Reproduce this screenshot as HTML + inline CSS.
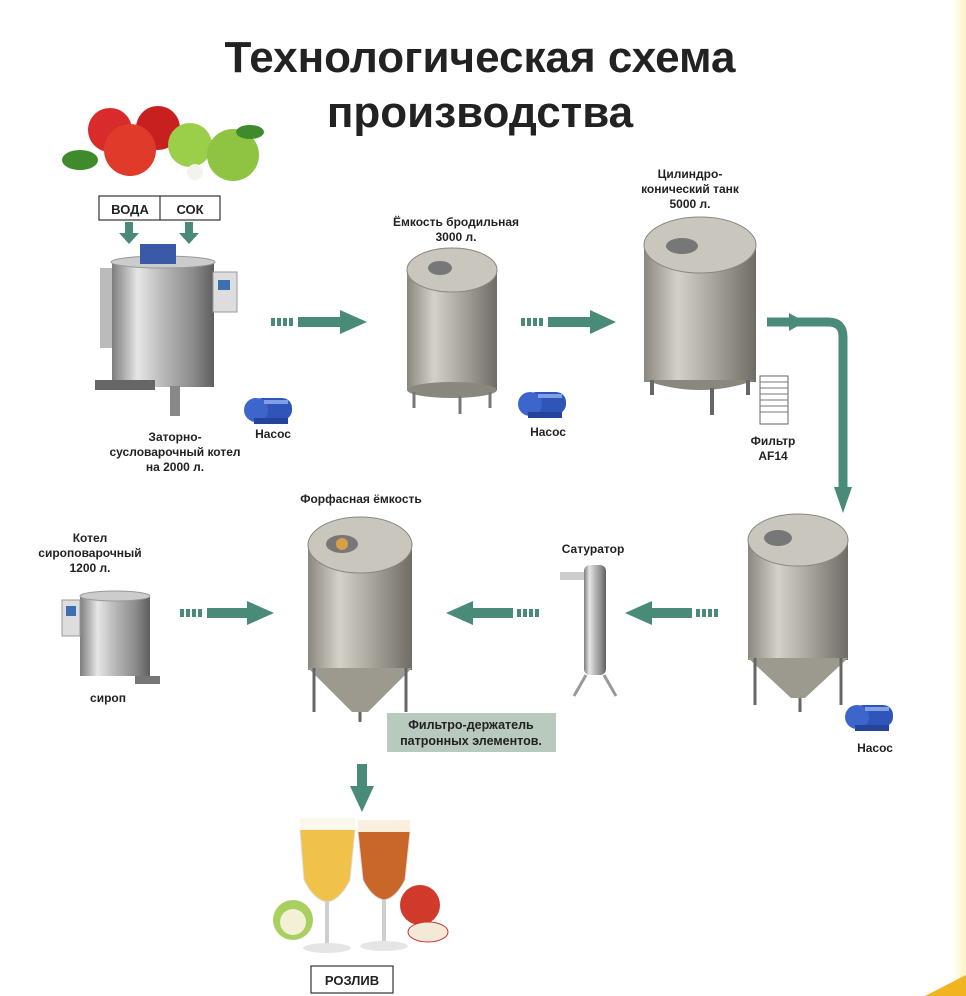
<!DOCTYPE html>
<html><head><meta charset="utf-8"><style>
body{margin:0;background:#fff;width:966px;height:996px;overflow:hidden}
svg{display:block}
text{font-family:"Liberation Sans",Arial,sans-serif;font-weight:bold;fill:#222}
</style></head><body>
<svg width="966" height="996" viewBox="0 0 966 996">
<defs>
<linearGradient id="st" x1="0" x2="1"><stop offset="0" stop-color="#7d7d7d"/><stop offset=".25" stop-color="#e6e6e6"/><stop offset=".5" stop-color="#b8b8b8"/><stop offset=".8" stop-color="#8a8a8a"/><stop offset="1" stop-color="#5e5e5e"/></linearGradient>
<linearGradient id="tk" x1="0" x2="1"><stop offset="0" stop-color="#8a877f"/><stop offset=".3" stop-color="#d4d1c8"/><stop offset=".6" stop-color="#aaa79e"/><stop offset="1" stop-color="#6f6c66"/></linearGradient>
<linearGradient id="ye" x1="0" x2="1"><stop offset="0" stop-color="#fff"/><stop offset="1" stop-color="#fff3c0"/></linearGradient>
<g id="pump"><rect x="8" y="8" width="40" height="22" rx="10" fill="#2f55b8"/><circle cx="12" cy="20" r="12" fill="#3d66cc"/><rect x="20" y="10" width="24" height="4" fill="#7fa0e6"/><rect x="10" y="28" width="34" height="6" fill="#24439a"/></g>
</defs>
<rect x="952" y="0" width="14" height="996" fill="url(#ye)"/>
<polygon points="925,996 966,975 966,996" fill="#f2b320"/>
<text x="480" y="72" font-size="44" text-anchor="middle" fill="#2a2a2a">Технологическая схема</text>
<text x="480" y="127" font-size="44" text-anchor="middle" fill="#2a2a2a">производства</text>

<!-- apples -->
<circle cx="110" cy="130" r="22" fill="#d92b2b"/><circle cx="158" cy="128" r="22" fill="#c8201e"/><circle cx="130" cy="150" r="26" fill="#e03a2a"/>
<circle cx="190" cy="145" r="22" fill="#9bcf4a"/><circle cx="233" cy="155" r="26" fill="#8ec442"/>
<ellipse cx="80" cy="160" rx="18" ry="10" fill="#3f8a2a"/><ellipse cx="250" cy="132" rx="14" ry="7" fill="#3f8a2a"/>
<circle cx="195" cy="172" r="8" fill="#f3f3ee"/>

<!-- voda/sok -->
<rect x="99" y="196" width="121" height="24" fill="#fff" stroke="#333" stroke-width="1.2"/>
<line x1="160" y1="196" x2="160" y2="220" stroke="#333" stroke-width="1.2"/>
<text x="130" y="214" font-size="13" text-anchor="middle">ВОДА</text>
<text x="190" y="214" font-size="13" text-anchor="middle">СОК</text>
<g fill="#4a8a78"><rect x="125" y="222" width="8" height="12"/><polygon points="119,233 139,233 129,244"/><rect x="185" y="222" width="8" height="12"/><polygon points="179,233 199,233 189,244"/></g>

<!-- kettle -->
<rect x="112" y="262" width="102" height="125" fill="url(#st)"/>
<ellipse cx="163" cy="262" rx="52" ry="6" fill="#ccc" stroke="#999"/>
<rect x="140" y="244" width="36" height="20" fill="#3a5aa8"/>
<rect x="213" y="272" width="24" height="40" fill="#ddd" stroke="#999"/><rect x="218" y="280" width="12" height="10" fill="#3c6fb0"/>
<rect x="100" y="268" width="12" height="80" fill="#bbb"/>
<rect x="95" y="380" width="60" height="10" fill="#666"/><rect x="170" y="386" width="10" height="30" fill="#888"/>
<text x="175" y="441" font-size="12" text-anchor="middle">Заторно-</text>
<text x="175" y="456" font-size="12" text-anchor="middle">сусловарочный котел</text>
<text x="175" y="471" font-size="12" text-anchor="middle">на 2000 л.</text>

<use href="#pump" x="244" y="390"/>
<text x="273" y="438" font-size="12" text-anchor="middle">Насос</text>
<use href="#pump" x="518" y="384"/>
<text x="548" y="436" font-size="12" text-anchor="middle">Насос</text>
<use href="#pump" x="845" y="697"/>
<text x="875" y="752" font-size="12" text-anchor="middle">Насос</text>

<!-- arrows -->
<g fill="#4a8a78">
<rect x="271" y="318" width="4" height="8"/><rect x="277" y="318" width="4" height="8"/><rect x="283" y="318" width="4" height="8"/><rect x="289" y="318" width="4" height="8"/>
<rect x="298" y="317" width="44" height="10"/><polygon points="340,310 367,322 340,334"/>
<rect x="521" y="318" width="4" height="8"/><rect x="527" y="318" width="4" height="8"/><rect x="533" y="318" width="4" height="8"/><rect x="539" y="318" width="4" height="8"/>
<rect x="548" y="317" width="44" height="10"/><polygon points="590,310 616,322 590,334"/>
<polygon points="789,313 805,322 789,331"/>
<polygon points="834,487 852,487 843,513"/>
<rect x="180" y="609" width="4" height="8"/><rect x="186" y="609" width="4" height="8"/><rect x="192" y="609" width="4" height="8"/><rect x="198" y="609" width="4" height="8"/>
<rect x="207" y="608" width="42" height="10"/><polygon points="247,601 274,613 247,625"/>
<rect x="696" y="609" width="4" height="8"/><rect x="702" y="609" width="4" height="8"/><rect x="708" y="609" width="4" height="8"/><rect x="714" y="609" width="4" height="8"/>
<rect x="650" y="608" width="42" height="10"/><polygon points="652,601 625,613 652,625"/>
<rect x="517" y="609" width="4" height="8"/><rect x="523" y="609" width="4" height="8"/><rect x="529" y="609" width="4" height="8"/><rect x="535" y="609" width="4" height="8"/>
<rect x="471" y="608" width="42" height="10"/><polygon points="473,601 446,613 473,625"/>
<rect x="357" y="764" width="10" height="24"/><polygon points="350,786 374,786 362,812"/>
</g>
<path d="M767,322 H828 Q843,322 843,337 V490" fill="none" stroke="#4a8a78" stroke-width="9"/>

<!-- fermentation tank -->
<text x="456" y="226" font-size="12" text-anchor="middle">Ёмкость бродильная</text>
<text x="456" y="241" font-size="12" text-anchor="middle">3000 л.</text>
<rect x="407" y="270" width="90" height="120" fill="url(#tk)"/>
<ellipse cx="452" cy="270" rx="45" ry="22" fill="#c9c6bd" stroke="#8a877f"/>
<ellipse cx="452" cy="390" rx="45" ry="8" fill="#8a877f"/>
<ellipse cx="440" cy="268" rx="12" ry="7" fill="#777"/>
<g stroke="#777" stroke-width="3"><line x1="414" y1="392" x2="414" y2="408"/><line x1="490" y1="392" x2="490" y2="408"/><line x1="460" y1="396" x2="460" y2="414"/></g>

<!-- CCT -->
<text x="690" y="178" font-size="12" text-anchor="middle">Цилиндро-</text>
<text x="690" y="193" font-size="12" text-anchor="middle">конический танк</text>
<text x="690" y="208" font-size="12" text-anchor="middle">5000 л.</text>
<rect x="644" y="245" width="112" height="137" fill="url(#tk)"/>
<ellipse cx="700" cy="245" rx="56" ry="28" fill="#c9c6bd" stroke="#8a877f"/>
<ellipse cx="682" cy="246" rx="16" ry="8" fill="#777"/>
<path d="M644,380 Q700,400 756,380" fill="#8a877f"/>
<g stroke="#666" stroke-width="4"><line x1="652" y1="380" x2="652" y2="395"/><line x1="748" y1="380" x2="748" y2="395"/><line x1="712" y1="388" x2="712" y2="415"/></g>
<rect x="760" y="376" width="28" height="48" fill="#fff" stroke="#666"/>
<g stroke="#777"><line x1="760" y1="382" x2="788" y2="382"/><line x1="760" y1="388" x2="788" y2="388"/><line x1="760" y1="394" x2="788" y2="394"/><line x1="760" y1="400" x2="788" y2="400"/><line x1="760" y1="406" x2="788" y2="406"/><line x1="760" y1="412" x2="788" y2="412"/></g>
<text x="773" y="445" font-size="12" text-anchor="middle">Фильтр</text>
<text x="773" y="460" font-size="12" text-anchor="middle">AF14</text>

<!-- right conical -->
<rect x="748" y="540" width="100" height="120" fill="url(#tk)"/>
<ellipse cx="798" cy="540" rx="50" ry="26" fill="#c9c6bd" stroke="#8a877f"/>
<ellipse cx="778" cy="538" rx="14" ry="8" fill="#777"/>
<polygon points="748,658 848,658 805,698 791,698" fill="#9c998f"/>
<g stroke="#666" stroke-width="3"><line x1="755" y1="658" x2="755" y2="705"/><line x1="841" y1="658" x2="841" y2="705"/><line x1="800" y1="698" x2="800" y2="712"/></g>

<!-- saturator -->
<text x="593" y="553" font-size="12" text-anchor="middle">Сатуратор</text>
<rect x="584" y="565" width="22" height="110" rx="6" fill="url(#st)"/>
<rect x="560" y="572" width="24" height="8" fill="#ccc"/>
<g stroke="#999" stroke-width="3"><line x1="586" y1="675" x2="574" y2="696"/><line x1="604" y1="675" x2="616" y2="696"/></g>

<!-- forfas tank -->
<text x="361" y="503" font-size="12" text-anchor="middle">Форфасная ёмкость</text>
<rect x="308" y="545" width="104" height="125" fill="url(#tk)"/>
<ellipse cx="360" cy="545" rx="52" ry="28" fill="#c9c6bd" stroke="#8a877f"/>
<ellipse cx="342" cy="544" rx="16" ry="9" fill="#777"/><circle cx="342" cy="544" r="6" fill="#d6a046"/>
<polygon points="308,668 412,668 368,712 352,712" fill="#9c998f"/>
<g stroke="#666" stroke-width="3"><line x1="314" y1="668" x2="314" y2="712"/><line x1="406" y1="668" x2="406" y2="712"/><line x1="360" y1="712" x2="360" y2="722"/></g>

<!-- syrup kettle -->
<text x="90" y="542" font-size="12" text-anchor="middle">Котел</text>
<text x="90" y="557" font-size="12" text-anchor="middle">сироповарочный</text>
<text x="90" y="572" font-size="12" text-anchor="middle">1200 л.</text>
<rect x="80" y="596" width="70" height="80" fill="url(#st)"/>
<ellipse cx="115" cy="596" rx="35" ry="5" fill="#ccc" stroke="#999"/>
<rect x="62" y="600" width="18" height="36" fill="#ddd" stroke="#999"/><rect x="66" y="606" width="10" height="10" fill="#3c6fb0"/>
<rect x="135" y="676" width="25" height="8" fill="#777"/>
<text x="108" y="702" font-size="12" text-anchor="middle">сироп</text>

<rect x="387" y="713" width="169" height="39" fill="#b8c9bd"/>
<text x="471" y="729" font-size="12.5" text-anchor="middle">Фильтро-держатель</text>
<text x="471" y="745" font-size="12.5" text-anchor="middle">патронных элементов.</text>

<!-- glasses -->
<path d="M300,830 Q300,820 327,820 Q355,820 355,830 L350,880 Q340,900 327,902 Q314,900 304,880 Z" fill="#f0c24a" stroke="#ddd"/>
<rect x="300" y="818" width="55" height="12" fill="#fbf7ea"/>
<path d="M358,832 Q358,822 384,822 Q410,822 410,832 L405,880 Q396,898 384,900 Q372,898 363,880 Z" fill="#c9662a" stroke="#ddd"/>
<rect x="358" y="820" width="52" height="12" fill="#f8efdf"/>
<g stroke="#cfcfcf" stroke-width="4"><line x1="327" y1="902" x2="327" y2="945"/><line x1="384" y1="900" x2="384" y2="943"/></g>
<ellipse cx="327" cy="948" rx="24" ry="5" fill="#e5e5e5"/><ellipse cx="384" cy="946" rx="24" ry="5" fill="#e5e5e5"/>
<circle cx="293" cy="920" r="20" fill="#a8d060"/><circle cx="293" cy="922" r="13" fill="#f4f0d6"/>
<circle cx="420" cy="905" r="20" fill="#d03a2a"/><ellipse cx="428" cy="932" rx="20" ry="10" fill="#f4e9d6" stroke="#c33"/>
<rect x="311" y="966" width="82" height="27" fill="#fff" stroke="#333" stroke-width="1.2"/>
<text x="352" y="985" font-size="13" text-anchor="middle">РОЗЛИВ</text>
</svg>
</body></html>
